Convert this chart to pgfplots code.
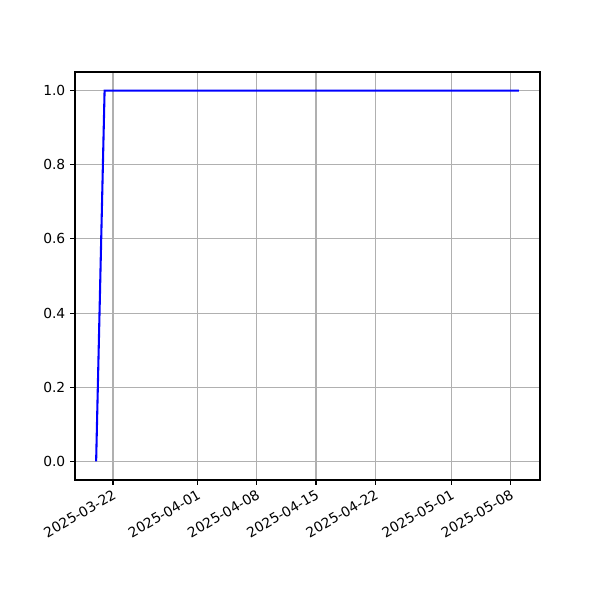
\documentclass[border=0pt]{standalone}
\usepackage{pgfplots}
\pgfplotsset{compat=1.18}
\usetikzlibrary{calc}
\usepackage{fontspec}
\setmainfont{DejaVu Sans}
\begin{document}
\fontsize{10}{12}\selectfont
\begin{tikzpicture}
\begin{axis}[
  name=ax,
  scale only axis,
  width=4.65in, height=4.08in,
  xmin=-4.5, xmax=50.5,
  ymin=-0.05, ymax=1.05,
  xtick={0,10,17,24,31,40,47},
  xticklabels={2025-03-22,2025-04-01,2025-04-08,2025-04-15,2025-04-22,2025-05-01,2025-05-08},
  ytick={0,0.2,0.4,0.6,0.8,1.0},
  /pgf/number format/fixed,
  /pgf/number format/fixed zerofill,
  /pgf/number format/precision=1,
  /pgf/number format/assume math mode=true,
  xticklabel style={rotate=30, anchor=north east, font=\fontsize{10}{12}\selectfont, inner sep=2pt},
  yticklabel style={font=\fontsize{10}{12}\selectfont},
  grid=major,
  major grid style={color=black!31, line width=0.8pt},
  axis line style={line width=0.8pt},
  tick style={black, line width=0.8pt},
  tick align=outside,
  major tick length=3.5pt,
  xtick pos=bottom, ytick pos=left,
]
\addplot[color=blue, line width=1.5pt] coordinates {
(-2,0) (-1,1) (0,1) (10,1) (20,1) (30,1) (40,1) (48,1)
};
\end{axis}
\pgfresetboundingbox
\path[use as bounding box] ($(ax.south west)+(-0.75in,-1.2in)$) rectangle ($(ax.north east)+(0.6in,0.72in)$);
\end{tikzpicture}
\end{document}
